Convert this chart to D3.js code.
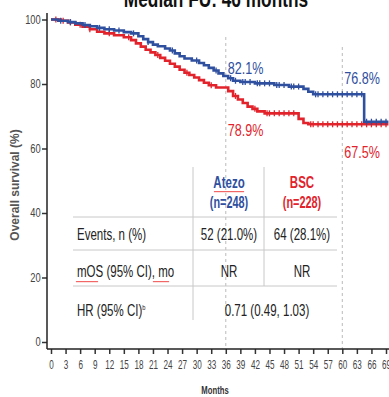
<!DOCTYPE html>
<html>
<head>
    <script src="https://d3js.org/d3.v7.min.js"></script>
    <style>
        body { margin: 0; background: #fff; }
        svg { display: block; font-family: "Liberation Sans", Arial, sans-serif; }
        .tick line { stroke: #333; stroke-width: 1.5px; }
    </style>
</head>
<body>
    <div id="chart"></div>

    <script>
        // KM step points (months, % surviving)
        const atezoT = [0, 1.5, 3.5, 5, 6.5, 8, 9.5, 11, 13, 15, 16.5, 18, 19, 20, 21, 22, 23.5, 24.5, 25.5, 26.5, 27.5, 29, 30.5, 31.5, 32.5, 33.5, 34.5, 35.5, 36.5, 37.5, 39, 42, 46, 49, 52, 53, 54, 64.5, 70];
        const atezoS = [100, 99.6, 99.2, 98.8, 98.3, 97.9, 97.4, 97.0, 96.6, 96.1, 95.7, 94.8, 93.9, 93.0, 92.2, 91.7, 91.0, 90.4, 89.5, 88.6, 87.9, 87.3, 86.5, 85.8, 85.0, 84.2, 83.3, 82.5, 81.8, 81.0, 80.6, 80.2, 79.7, 79.2, 78.5, 77.6, 76.8, 68.3, 68.3];
        const bscT = [0, 2, 3.5, 5, 6.5, 8, 9.5, 11, 13, 15, 16.5, 17.5, 18.5, 19.5, 20.5, 21.5, 22.5, 23.5, 24.5, 25.5, 26.5, 27.5, 28.5, 29.5, 30.5, 31.5, 32.5, 34, 36.5, 37.5, 38.5, 39.5, 40.5, 41.5, 42.5, 44, 51, 52, 53, 70];
        const bscS = [100, 99.6, 99.1, 98.4, 97.8, 97.0, 96.2, 95.7, 95.1, 94.5, 93.6, 92.6, 91.6, 90.6, 89.8, 89.0, 88.1, 87.2, 86.3, 85.4, 84.4, 83.5, 82.8, 82.0, 81.2, 80.4, 79.6, 78.9, 77.8, 76.3, 75.2, 74.1, 73.0, 72.3, 71.5, 70.9, 69.2, 67.9, 67.5, 67.5];

        // censor marks
        const atezoCens = [2, 4, 7, 10, 12, 14, 17, 20, 25, 30, 34, 37, 38, 39.5, 40, 41, 42.5, 43, 44, 45, 46.5, 47, 48, 49.5, 50, 51, 54.5, 55, 56, 57, 58, 59, 60, 61, 62, 63, 64, 65, 66, 67, 68, 69];
        const bscCens = [1, 2.5, 4, 6, 8, 12, 16, 22, 28, 33, 38, 42, 44.5, 45, 46, 47, 48, 49, 50, 53.5, 54, 55, 56, 57, 58, 59, 60, 61, 62, 63, 64, 65, 66, 67, 68, 69];

        const yTicks = [0, 20, 40, 60, 80, 100];
        const xTicks = d3.range(0, 70, 3);
        const landmarks = [36, 60];
        const atezoLm = ["82.1%", "76.8%"];
        const bscLm = ["78.9%", "67.5%"];

        const armNames = ["Atezo", "BSC"];
        const armN = ["(n=248)", "(n=228)"];
        const rowLabels = ["Events, n (%)", "mOS (95% CI), mo", "HR (95% CI)"];
        const atezoCol = ["52 (21.0%)", "NR"];
        const bscCol = ["64 (28.1%)", "NR"];
        const hrText = "0.71 (0.49, 1.03)";

        const blue = "#2f4f9f";
        const red = "#e2232b";

        const W = 389, H = 397;
        const svg = d3.select("#chart").append("svg")
            .attr("width", W).attr("height", H);

        const x = d3.scaleLinear().domain([0, 69]).range([51, 386]);
        const y = d3.scaleLinear().domain([0, 100]).range([342, 19.5]);
        const axisY = 349, axisX = 47;

        // the slide text is condensed, so squeeze it horizontally
        function txt(parent, px, py, str, size, sx, anchor, color, weight) {
            const t = parent.append("g")
                .attr("transform", `translate(${px},${py}) scale(${sx},1)`)
                .append("text")
                .attr("text-anchor", anchor || "start")
                .style("font-size", size + "px")
                .style("fill", color || "#222")
                .style("font-weight", weight || "normal")
                .text(str);
            return t;
        }

        // title (cut off at top)
        txt(svg, 216, 7, "Median FU: 46 months", 24, 0.72, "middle", "#111", "bold");

        // landmark dashed lines
        svg.selectAll(".lm").data(landmarks).join("line")
            .attr("x1", d => x(d)).attr("x2", d => x(d))
            .attr("y1", (d, i) => i === 0 ? 37 : 47).attr("y2", axisY)
            .attr("stroke", "#bbb").attr("stroke-width", 1)
            .attr("stroke-dasharray", "3,3");

        // axes
        const yAx = svg.append("g")
            .attr("transform", `translate(${axisX},0)`)
            .call(d3.axisLeft(y).tickValues(yTicks).tickSize(5).tickPadding(3));
        yAx.select(".domain").remove();
        yAx.selectAll(".tick text")
            .attr("transform", "scale(0.78,1)")
            .style("font-size", "12px").style("fill", "#444");
        svg.append("line").attr("x1", axisX).attr("x2", axisX)
            .attr("y1", 13).attr("y2", axisY).attr("stroke", "#222").attr("stroke-width", 1.5);

        const xAx = svg.append("g")
            .attr("transform", `translate(0,${axisY})`)
            .call(d3.axisBottom(x).tickValues(xTicks).tickSize(5).tickPadding(6));
        xAx.select(".domain").remove();
        xAx.selectAll(".tick text")
            .attr("transform", "scale(0.65,1)")
            .style("font-size", "12.5px").style("fill", "#444");
        svg.append("line").attr("x1", axisX).attr("x2", W)
            .attr("y1", axisY).attr("y2", axisY).attr("stroke", "#222").attr("stroke-width", 1.5);

        svg.append("text")
            .attr("transform", "translate(19,185) rotate(-90)")
            .attr("text-anchor", "middle")
            .style("font-size", "12px").style("font-weight", "bold").style("fill", "#555")
            .text("Overall survival (%)");

        txt(svg, 215, 394, "Months", 11, 0.7, "middle", "#333", "bold");

        // table
        const tbl = svg.append("g");
        const colX = [229, 302];
        const lineY = [217, 250, 286];
        const rowY = [240, 277, 316];
        tbl.selectAll(".hl").data(lineY).join("line")
            .attr("x1", 73).attr("x2", 337).attr("y1", d => d).attr("y2", d => d)
            .attr("stroke", "#c8c8c8").attr("stroke-width", 1);
        tbl.append("line").attr("x1", 193).attr("x2", 193).attr("y1", 167).attr("y2", 320)
            .attr("stroke", "#c8c8c8");
        tbl.append("line").attr("x1", 264).attr("x2", 264).attr("y1", 167).attr("y2", 286)
            .attr("stroke", "#c8c8c8");

        armNames.forEach((nm, i) => {
            const c = i === 0 ? blue : red;
            txt(tbl, colX[i], 188, nm, 16, 0.72, "middle", c, "bold");
            txt(tbl, colX[i], 208, armN[i], 16, 0.68, "middle", c, "bold");
        });

        const sxCell = 0.72;
        rowLabels.forEach((lb, i) => {
            const t = txt(tbl, 77, rowY[i], lb, 16, sxCell);
            if (i === 2) t.append("tspan").attr("dy", -6).style("font-size", "8px").text("b");
        });
        atezoCol.forEach((v, i) => txt(tbl, colX[0], rowY[i], v, 16, sxCell, "middle"));
        bscCol.forEach((v, i) => txt(tbl, colX[1], rowY[i], v, 16, sxCell, "middle"));
        txt(tbl, 267, rowY[2], hrText, 16, sxCell, "middle");

        // spell-check squiggles seen in the slide
        function squiggle(x0, x1, yy) {
            let p = `M${x0},${yy}`;
            for (let k = x0; k < x1; k += 2) p += ` l1,1.2 l1,-1.2`;
            svg.append("path").attr("d", p).attr("fill", "none").attr("stroke", "#e33").attr("stroke-width", 0.8);
        }
        squiggle(214, 244, 191);
        squiggle(76, 97, 281);
        squiggle(153, 169, 281);

        // curves
        const stepLine = d3.line().x(d => x(d[0])).y(d => y(d[1])).curve(d3.curveStepAfter);
        function survAt(T, S, t) {
            let v = S[0];
            for (let k = 0; k < T.length; k++) if (T[k] <= t) v = S[k];
            return v;
        }
        function drawArm(T, S, cens, color) {
            const pts = T.map((t, k) => [Math.min(t, 69.5), S[k]]);
            svg.append("path").datum(pts)
                .attr("d", stepLine).attr("fill", "none")
                .attr("stroke", color).attr("stroke-width", 2.6);
            svg.append("g").selectAll("line").data(cens).join("line")
                .attr("x1", d => x(d)).attr("x2", d => x(d))
                .attr("y1", d => y(survAt(T, S, d)) - 3)
                .attr("y2", d => y(survAt(T, S, d)) + 3)
                .attr("stroke", color).attr("stroke-width", 1.3);
        }
        drawArm(bscT, bscS, bscCens, red);
        drawArm(atezoT, atezoS, atezoCens, blue);

        // landmark labels
        const lmY = { a: [74, 84], b: [136, 158] };
        landmarks.forEach((m, i) => {
            txt(svg, x(m) + 2, lmY.a[i], atezoLm[i], 17, 0.74, "start", blue);
            txt(svg, x(m) + 2, lmY.b[i], bscLm[i], 17, 0.74, "start", red);
        });
    </script>
</body>
</html>
